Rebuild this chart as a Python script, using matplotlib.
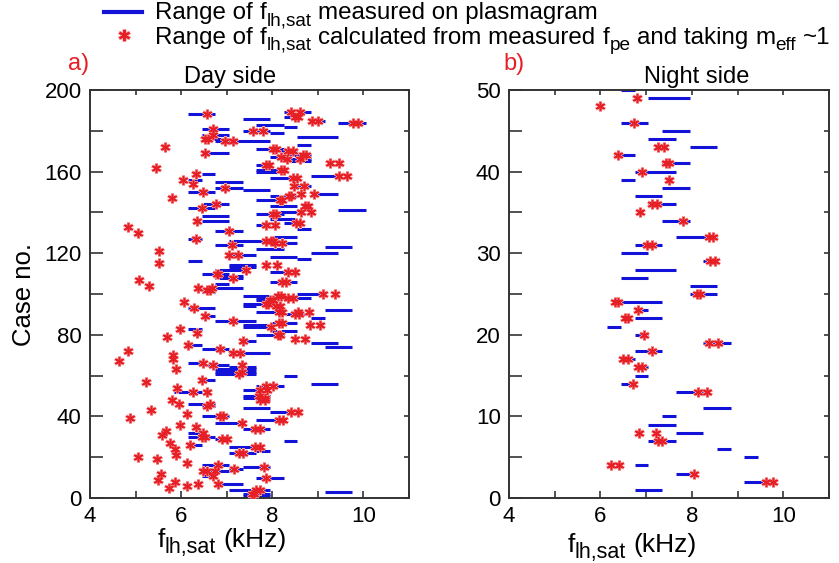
import matplotlib
matplotlib.use('Agg')
import matplotlib.pyplot as plt
from matplotlib.lines import Line2D
from matplotlib.ticker import MultipleLocator

plt.rcParams['font.family'] = ['Liberation Sans', 'DejaVu Sans']

BLUE = '#1212d8'
RED = '#e61e26'
PINK = '#f4a0a0'

# day side: measured ranges (case, low, high) in kHz
day_lines = [
    (189, 8.25, 8.85), (188, 6.15, 6.75), (187, 8.25, 8.55), (186, 7.35, 7.95),
    (185, 8.85, 9.15), (184, 9.45, 10.05), (183, 7.65, 8.25), (182, 8.25, 8.55),
    (181, 6.45, 7.05), (180, 7.35, 7.95), (179, 7.95, 8.25), (178, 6.45, 7.05),
    (177, 8.55, 9.45), (176, 6.45, 7.05), (175, 6.75, 7.95), (173, 8.55, 8.85),
    (171, 7.65, 8.25), (170, 7.95, 8.55), (169, 6.45, 7.05), (168, 8.25, 8.85),
    (167, 7.95, 8.25), (166, 8.25, 8.85), (165, 8.25, 8.85), (163, 7.65, 7.95),
    (161, 7.65, 8.25), (160, 7.65, 8.25), (159, 6.45, 6.75), (158, 8.85, 9.45),
    (157, 7.95, 8.55), (156, 6.15, 6.45), (155, 6.75, 7.35), (153, 8.55, 8.85),
    (152, 6.75, 7.35), (151, 7.35, 7.95), (150, 6.15, 6.75), (149, 8.85, 9.45),
    (148, 7.95, 8.55), (146, 7.65, 8.25), (144, 6.45, 7.05), (143, 7.95, 8.55),
    (142, 6.15, 6.75), (141, 9.45, 10.05), (140, 7.95, 8.55), (139, 7.65, 8.25),
    (138, 6.45, 7.05), (137, 7.95, 8.55), (136, 6.45, 7.05), (135, 8.25, 8.55),
    (134, 7.65, 7.95), (132, 8.55, 8.85), (131, 6.75, 7.35), (128, 7.95, 8.55),
    (127, 6.15, 6.45), (126, 7.05, 7.95), (125, 7.95, 8.55), (124, 6.75, 7.35),
    (123, 9.15, 9.75), (122, 7.65, 8.25), (120, 8.85, 9.45), (119, 7.05, 7.65),
    (118, 7.95, 8.55), (117, 8.55, 8.85), (116, 6.15, 6.45), (114, 7.05, 7.65),
    (113, 7.05, 7.65), (112, 6.75, 7.35), (111, 7.95, 8.55), (110, 6.45, 7.05),
    (109, 6.75, 7.35), (108, 6.75, 7.35), (106, 7.95, 8.55), (105, 6.75, 7.05),
    (103, 6.75, 7.35), (102, 6.45, 6.75), (101, 6.45, 6.75), (100, 8.55, 9.15),
    (99, 7.35, 7.95), (98, 7.65, 8.85), (97, 7.65, 7.95), (95, 7.35, 7.95),
    (94, 7.35, 7.65), (93, 6.15, 6.75), (92, 9.15, 9.75), (91, 7.65, 8.25),
    (90, 8.25, 8.85), (89, 6.45, 6.75), (88, 8.85, 9.15), (87, 6.75, 7.65),
    (86, 7.95, 8.55), (85, 7.35, 7.95), (84, 7.35, 7.95), (83, 6.15, 6.45),
    (82, 7.95, 8.55), (80, 7.65, 8.25), (77, 7.35, 7.65), (76, 8.85, 9.45),
    (75, 6.15, 6.45), (74, 9.15, 9.75), (73, 6.45, 7.05), (71, 7.05, 7.95),
    (66, 6.15, 6.45), (65, 6.45, 7.05), (64, 7.05, 7.65), (63, 6.75, 7.65),
    (62, 6.75, 7.65), (61, 6.75, 7.65), (60, 8.25, 8.55), (58, 6.45, 6.75),
    (56, 8.85, 9.45), (55, 7.65, 8.25), (53, 7.35, 7.95), (52, 5.85, 6.45),
    (50, 7.35, 7.95), (49, 7.35, 7.95), (48, 7.65, 7.95), (46, 6.15, 6.75),
    (45, 6.45, 6.75), (44, 7.35, 7.95), (42, 7.95, 8.55), (40, 6.45, 7.05),
    (38, 7.65, 8.25), (37, 6.75, 7.35), (34, 7.35, 7.95), (32, 6.15, 6.45),
    (30, 6.15, 6.75), (29, 6.75, 7.05), (28, 8.25, 8.55), (26, 6.15, 6.45),
    (25, 7.05, 7.65), (23, 7.65, 7.95), (22, 7.05, 7.65), (16, 6.45, 7.05),
    (15, 7.35, 7.95), (14, 7.05, 7.35), (13, 6.45, 7.05), (11, 6.45, 6.75),
    (10, 7.65, 8.25), (7, 6.75, 7.35), (4, 7.05, 7.95), (3, 9.15, 9.75),
    (2, 7.35, 7.95), (1, 7.35, 7.95),
]

# day side: calculated values (case, f)
day_stars = [
    (189, 8.42), (189, 8.60), (188, 6.56), (187, 8.49), (187, 8.57), (185, 8.88),
    (185, 9.01), (184, 9.77), (184, 9.88), (181, 6.70), (180, 7.58), (180, 7.80),
    (178, 6.70), (176, 6.52), (176, 6.60), (175, 6.96), (175, 7.13), (172, 5.64),
    (171, 8.02), (171, 8.08), (170, 8.35), (170, 8.46), (169, 6.52), (168, 8.68),
    (168, 8.75), (167, 8.20), (166, 8.32), (166, 8.60), (164, 9.26), (164, 9.47),
    (163, 7.87), (163, 7.93), (162, 5.45), (161, 8.20), (161, 8.26), (159, 6.32),
    (158, 9.47), (158, 9.64), (157, 8.46), (157, 8.55), (156, 6.05), (154, 6.25),
    (153, 8.48), (153, 8.70), (152, 6.96), (150, 6.47), (149, 8.64), (149, 8.91),
    (148, 8.37), (148, 8.40), (147, 5.79), (146, 8.17), (146, 8.22), (144, 6.76),
    (143, 8.71), (143, 8.79), (142, 6.45), (140, 8.62), (140, 8.85), (139, 8.02),
    (139, 8.08), (136, 6.34), (135, 8.52), (135, 8.60), (134, 7.87), (134, 8.06),
    (133, 4.84), (131, 7.06), (130, 5.06), (127, 6.32), (126, 7.87), (126, 7.98),
    (126, 8.02), (125, 8.06), (125, 8.22), (124, 7.11), (121, 5.51), (119, 7.06),
    (119, 7.25), (115, 5.52), (114, 7.86), (114, 8.11), (112, 7.42), (111, 8.35),
    (111, 8.49), (110, 6.78), (110, 6.81), (108, 7.13), (107, 5.08), (106, 8.22),
    (106, 8.31), (104, 5.30), (103, 6.38), (103, 6.67), (102, 6.56), (102, 6.63),
    (100, 9.12), (100, 9.37), (99, 8.13), (99, 8.20), (98, 8.35), (98, 8.46),
    (97, 7.95), (97, 8.02), (96, 6.07), (95, 7.87), (95, 7.91), (94, 8.09),
    (94, 8.17), (93, 6.29), (91, 8.15), (91, 8.22), (91, 8.57), (91, 8.81),
    (90, 8.49), (90, 8.59), (89, 6.52), (87, 7.13), (86, 8.15), (86, 8.22),
    (85, 8.82), (85, 9.04), (84, 7.98), (83, 5.97), (81, 6.34), (80, 8.13),
    (80, 8.17), (79, 5.70), (78, 8.49), (78, 8.71), (77, 7.35), (75, 6.14),
    (73, 6.85), (72, 4.84), (71, 7.14), (71, 7.29), (70, 5.83), (68, 5.83),
    (67, 4.64), (66, 6.49), (65, 6.70), (65, 7.33), (63, 5.89), (62, 7.33),
    (61, 7.27), (58, 6.45), (57, 5.23), (55, 7.87), (55, 8.02), (54, 5.90),
    (53, 7.73), (53, 7.89), (52, 6.25), (52, 6.56), (50, 7.70), (49, 7.85),
    (48, 5.81), (48, 7.73), (48, 7.84), (46, 6.63), (46, 5.96), (45, 6.56),
    (43, 5.33), (42, 8.42), (42, 8.57), (41, 6.13), (40, 6.85), (40, 6.91),
    (39, 4.88), (38, 8.15), (38, 8.24), (37, 7.33), (36, 5.97), (35, 6.32),
    (34, 7.62), (34, 7.73), (33, 5.67), (32, 6.49), (31, 5.57), (30, 6.45),
    (30, 6.52), (29, 6.89), (29, 7.00), (27, 5.75), (26, 6.19), (25, 7.62),
    (25, 7.74), (24, 5.86), (22, 7.27), (22, 7.35), (21, 5.89), (20, 5.06),
    (19, 5.48), (17, 6.13), (16, 6.81), (15, 7.82), (14, 7.16), (13, 6.49),
    (13, 6.56), (13, 6.74), (12, 5.55), (11, 6.70), (10, 7.87), (9, 5.50),
    (8, 5.86), (7, 6.38), (7, 6.81), (6, 6.13), (5, 5.74), (4, 7.65),
    (4, 7.73), (2, 7.55), (2, 7.60),
]

# night side
night_lines = [
    (50, 6.45, 6.75), (49, 7.05, 7.95), (46, 6.45, 7.05), (45, 7.35, 7.95),
    (44, 7.05, 7.65), (43, 7.95, 8.55), (42, 6.30, 6.75), (41, 7.35, 7.95),
    (40, 6.75, 7.65), (39, 6.45, 6.75), (38, 7.35, 7.95), (37, 6.75, 7.35),
    (36, 7.05, 7.65), (34, 7.35, 7.95), (32, 7.65, 8.55), (31, 6.75, 7.35),
    (30, 6.45, 7.05), (29, 8.25, 8.55), (28, 6.75, 7.65), (27, 6.45, 7.05),
    (26, 7.95, 8.55), (25, 7.95, 8.55), (24, 6.45, 7.35), (23, 6.75, 7.05),
    (22, 6.75, 7.35), (21, 6.15, 6.45), (20, 6.75, 7.05), (19, 8.25, 8.85),
    (18, 6.75, 7.35), (17, 6.45, 6.75), (16, 6.75, 7.05), (15, 6.75, 7.05),
    (14, 6.45, 6.75), (13, 7.65, 8.25), (11, 8.25, 8.85), (10, 7.35, 7.65),
    (9, 7.05, 7.65), (8, 7.65, 8.25), (7, 7.05, 7.65), (6, 8.55, 8.85),
    (5, 9.15, 9.45), (4, 6.75, 7.05), (3, 7.65, 7.95), (2, 9.15, 9.75),
    (1, 6.75, 7.35),
]

night_stars = [
    (49, 6.79), (48, 5.98), (46, 6.74), (43, 7.25), (43, 7.38), (42, 6.39),
    (41, 7.44), (41, 7.49), (40, 6.90), (39, 7.51), (36, 7.12), (36, 7.23),
    (35, 6.87), (34, 7.81), (32, 8.38), (32, 8.47), (31, 7.01), (31, 7.12),
    (29, 8.40), (29, 8.51), (25, 8.11), (25, 8.18), (24, 6.32), (24, 6.39),
    (23, 6.83), (22, 6.54), (22, 6.61), (20, 6.95), (19, 8.38), (19, 8.58),
    (18, 7.12), (17, 6.50), (17, 6.61), (16, 6.83), (16, 6.90), (14, 6.72),
    (13, 8.14), (13, 8.34), (8, 6.85), (8, 7.22), (7, 7.27), (7, 7.34),
    (4, 6.23), (4, 6.41), (3, 8.05), (2, 9.62), (2, 9.78),
]

W, H = 839, 563
fig = plt.figure(figsize=(W / 100, H / 100), dpi=100)


def fx(px):
    return px / W


def fy(py):
    return 1 - py / H


def star(ax, xs, ys):
    # pale halo under a red asterisk, like the blurred markers of the scan
    ax.plot(xs, ys, marker=(6, 2, 0), ms=7.5, mew=2.2, color=PINK, ls='none', zorder=3)
    ax.plot(xs, ys, marker=(6, 2, 0), ms=6.5, mew=1.1, color=RED, ls='none', zorder=4)


def draw_panel(rect, lines, stars, ymax, ystep, ylab):
    ax = fig.add_axes(rect)
    for case, lo, hi in lines:
        ax.plot([lo, hi], [case, case], color=BLUE, lw=2.2, solid_capstyle='butt', zorder=2)
    star(ax, [s[1] for s in stars], [s[0] for s in stars])
    ax.set_xlim(4, 11)
    ax.set_ylim(0, ymax)
    ax.xaxis.set_major_locator(MultipleLocator(2))
    ax.xaxis.set_minor_locator(MultipleLocator(1))
    ax.yaxis.set_major_locator(MultipleLocator(ylab))
    ax.yaxis.set_minor_locator(MultipleLocator(ystep))
    ax.tick_params(which='both', direction='in', top=True, right=True,
                   width=1.2, color='#333333', labelsize=16, pad=6)
    ax.tick_params(axis='x', which='both', length=5)
    ax.tick_params(axis='y', which='both', length=9)
    for t in ax.yaxis.get_major_ticks() + ax.yaxis.get_minor_ticks():
        t.tick2line.set_markersize(3.5)
    for t in ax.xaxis.get_major_ticks() + ax.xaxis.get_minor_ticks():
        t.tick2line.set_markersize(3.5)
    for sp in ax.spines.values():
        sp.set_linewidth(1.4)
        sp.set_color('#333333')
    return ax


def rich_text(x, y, pieces, ha='left'):
    # pieces: (text, size, baseline drop in px, gap before in em)
    r = fig.canvas.get_renderer()
    objs = []
    for s, size, dy, gap in pieces:
        t = fig.text(0, 0, s, fontsize=size, va='baseline', ha='left')
        w = t.get_window_extent(r).width
        objs.append((t, dy, w, gap * size * 100 / 72))
    total = sum(o[2] + o[3] for o in objs)
    cur = x - total / 2 if ha == 'center' else x
    for t, dy, w, g in objs:
        cur += g
        t.set_position((fx(cur), fy(y + dy)))
        cur += w


bottom, top = fy(498), fy(90)
ax1 = draw_panel([fx(90), bottom, fx(409) - fx(90), top - bottom],
                 day_lines, day_stars, 200, 20, 40)
ax2 = draw_panel([fx(509), bottom, fx(829) - fx(509), top - bottom],
                 night_lines, night_stars, 50, 5, 10)

# legend drawn at figure level
fig.add_artist(Line2D([fx(104), fx(142)], [fy(12), fy(12)], color=BLUE, lw=3))
for c, ms, mew in [(PINK, 9, 2.6), (RED, 8, 1.4)]:
    fig.add_artist(Line2D([fx(124)], [fy(35)], marker=(6, 2, 0), ms=ms, mew=mew,
                          color=c, ls='none'))

LG, LS, SUB = 17.4, 13.7, 6
rich_text(155, 19, [('Range of', LG, 0, 0), ('f', LG, 0, 0.28),
                    ('lh,sat', LS, SUB, 0.02),
                    ('measured on plasmagram', LG, 0, 0.28)])
rich_text(155, 44, [('Range of', LG, 0, 0), ('f', LG, 0, 0.28),
                    ('lh,sat', LS, SUB, 0.02),
                    ('calculated from measured', LG, 0, 0.28), ('f', LG, 0, 0.28),
                    ('pe', LS, SUB, 0.02), ('and taking', LG, 0, 0.28),
                    ('m', LG, 0, 0.28), ('eff', LS, SUB, 0.02), ('~1', LG, 0, 0.28)])

fig.text(fx(79), fy(70), 'a)', color=RED, fontsize=17, ha='center', va='baseline')
fig.text(fx(230), fy(83), 'Day side', fontsize=17, ha='center', va='baseline')
fig.text(fx(514), fy(70), 'b)', color=RED, fontsize=17, ha='center', va='baseline')
fig.text(fx(697), fy(83), 'Night side', fontsize=17, ha='center', va='baseline')

fig.text(fx(24), fy(295), 'Case no.', fontsize=18.5, rotation=90, ha='center', va='center')
rich_text(222, 547, [('f', 19, 0, 0), ('lh,sat', 15.5, 6, 0.02), ('(kHz)', 19, 0, 0.28)],
          ha='center')
rich_text(632, 552, [('f', 19, 0, 0), ('lh,sat', 15.5, 6, 0.02), ('(kHz)', 19, 0, 0.28)],
          ha='center')

fig.savefig('out.png', dpi=100)
